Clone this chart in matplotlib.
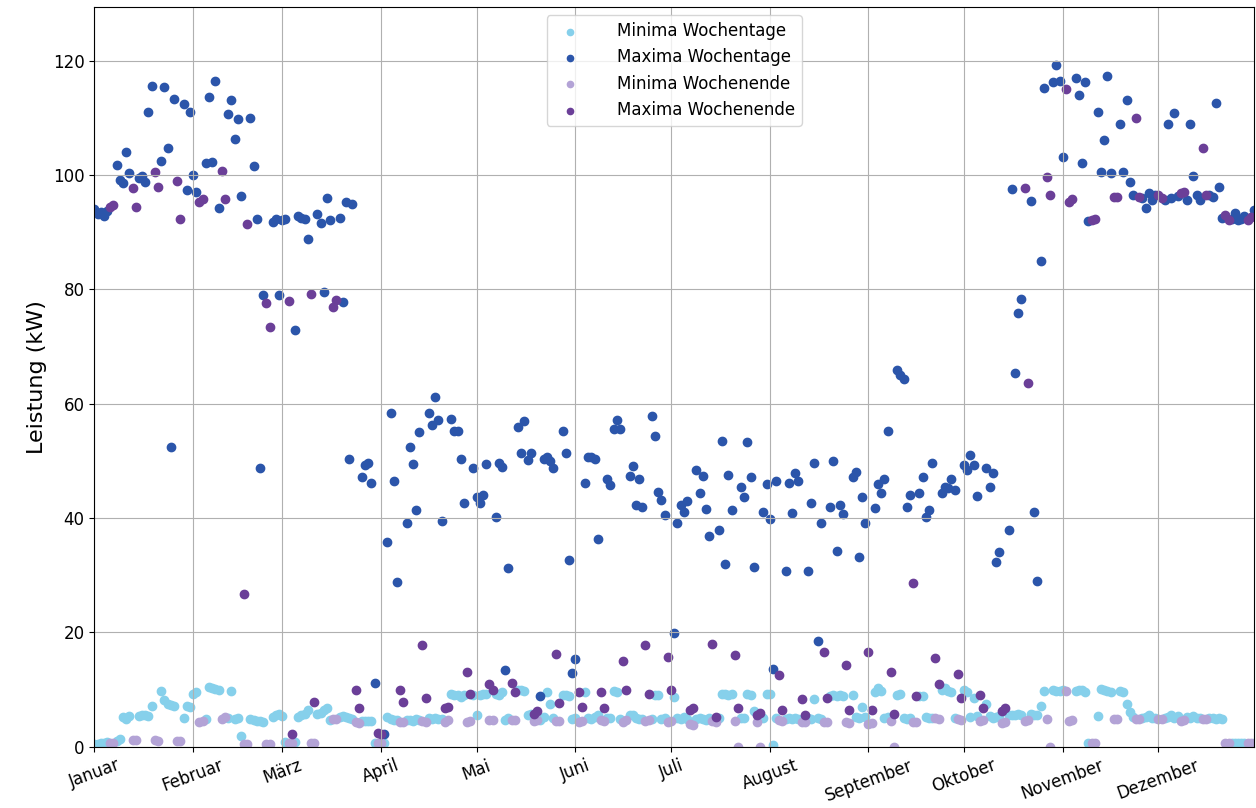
import numpy as np
import pandas as pd
import matplotlib
matplotlib.use("Agg")
import matplotlib.pyplot as plt

max_jan = [94.0, 93.2, 93.5, 92.8, 93.8, 94.5, 94.8, 101.7, 99.1, 98.6,
           104.1, 100.3, 97.7, 94.4, 99.5, 99.9, 98.8, 111.0, 115.6, 100.5,
           97.9, 102.4, 115.4, 104.7, 52.4, 113.3, 99.0, 92.3, 112.4, 97.4, 111.0]
max_feb = [100.0, 97.0, 95.3, 95.8, 102.1, 113.7, 102.3, 116.5, 94.2, 100.8,
           95.8, 110.6, 113.2, 106.3, 109.8, 96.3, 26.7, 91.4, 110.0, 101.6,
           92.4, 48.7, 79.0, 77.6, 73.4, 91.8, 92.4, 79.0]
max_mar = [92.2, 92.4, 78.0, 2.2, 72.9, 92.8, 92.5, 92.3, 88.8, 79.2,
           7.8, 93.2, 91.6, 79.5, 96.0, 92.2, 76.9, 78.1, 92.5, 77.8,
           95.3, 50.4, 95.0, 9.9, 6.7, 47.1, 49.2, 49.7, 46.1, 11.1, 2.4]
max_apr = [2.2, 2.2, 35.8, 58.3, 46.4, 28.8, 9.9, 7.9, 39.2, 52.4,
           49.4, 41.4, 55.0, 17.8, 8.5, 58.3, 56.2, 61.1, 57.2, 39.4,
           6.7, 7.0, 57.4, 55.3, 55.3, 50.4, 42.7, 13.1, 9.2, 48.8]
max_mai = [43.7, 42.7, 44.0, 49.4, 10.9, 9.9, 40.1, 49.6, 49.0, 13.4,
           31.2, 11.1, 9.6, 56.0, 51.3, 57.0, 50.1, 51.3, 5.8, 6.3,
           8.9, 50.3, 50.7, 49.9, 48.8, 16.2, 7.6, 55.3, 51.3, 32.7, 12.9]
max_jun = [15.3, 9.6, 7.0, 46.1, 50.7, 50.6, 50.4, 36.3, 9.6, 6.7,
           46.8, 45.7, 55.5, 57.1, 55.5, 15.0, 9.9, 47.4, 49.1, 42.3,
           46.8, 42.0, 17.8, 9.2, 57.8, 54.3, 44.5, 43.2, 40.5, 15.7]
max_jul = [9.9, 19.9, 39.1, 42.2, 41.0, 42.9, 6.4, 6.7, 48.4, 44.4,
           47.4, 41.6, 36.9, 18.0, 5.2, 37.9, 53.5, 31.9, 47.6, 41.4,
           16.0, 6.7, 45.5, 43.7, 53.3, 47.2, 31.4, 5.5, 5.9, 41.1, 45.9]
max_aug = [39.8, 13.6, 46.5, 12.5, 6.4, 30.7, 46.1, 40.9, 47.9, 46.5,
           8.3, 5.5, 30.7, 42.7, 49.7, 18.5, 39.2, 16.6, 8.6, 41.9,
           49.9, 34.3, 42.3, 40.7, 14.3, 6.4, 47.1, 48.1, 33.1, 43.7, 39.2]
max_sep = [16.6, 6.4, 41.8, 45.9, 44.4, 46.9, 55.3, 13.1, 5.8, 65.9,
           65.0, 64.3, 41.9, 44.0, 28.6, 8.9, 44.4, 47.2, 40.1, 41.4,
           49.7, 15.6, 11.0, 44.4, 45.5, 45.2, 46.8, 44.9, 12.7, 8.6]
max_okt = [49.2, 48.4, 51.1, 49.2, 43.9, 9.0, 6.7, 48.8, 45.5, 47.8,
           32.3, 34.0, 6.3, 6.7, 37.9, 97.5, 65.4, 75.8, 78.4, 97.7,
           63.6, 95.5, 41.1, 29.0, 84.9, 115.3, 99.7, 96.5, 116.3, 119.2, 116.5]
max_nov = [103.2, 115.0, 95.3, 95.8, 116.9, 114.0, 102.2, 116.3, 92.0, 92.1,
           92.3, 111.1, 100.6, 106.1, 117.3, 100.4, 96.2, 96.2, 108.9, 100.6,
           113.2, 98.8, 96.6, 110.0, 96.2, 96.0, 94.2, 96.9, 95.6, 96.6]
max_dez = [96.5, 96.0, 95.6, 109.0, 96.0, 110.8, 96.3, 96.8, 97.0, 95.6,
           108.9, 99.9, 96.6, 95.6, 104.7, 96.5, 96.5, 96.2, 112.6, 97.9,
           92.5, 93.0, 92.1, 92.3, 93.3, 92.1, 92.4, 92.8, 92.1, 92.7, 93.9]

min_jan = [0.5, 0.5, 0.6, 0.6, 0.8, 0.6, 0.7, 1.0, 1.4, 5.2,
           4.8, 5.3, 1.1, 1.2, 5.3, 5.6, 5.5, 5.4, 7.2, 1.2,
           1.0, 9.7, 8.2, 7.5, 7.3, 7.1, 1.0, 1.0, 5.1, 7.2, 7.0]
min_feb = [9.3, 9.6, 4.4, 4.5, 4.8, 10.4, 10.3, 10.1, 9.9, 4.8,
           5.2, 5.0, 9.7, 4.8, 5.0, 1.9, 0.5, 0.5, 4.8, 4.6,
           4.5, 4.5, 4.4, 0.5, 0.5, 5.2, 5.5, 5.7]
min_mar = [5.4, 0.9, 0.7, 0.7, 0.9, 5.2, 5.5, 5.7, 6.5, 0.7,
           0.7, 5.7, 5.9, 6.4, 6.8, 4.7, 4.8, 4.8, 5.2, 5.4,
           5.2, 5.1, 4.8, 4.4, 4.2, 4.5, 4.5, 4.5, 4.5, 0.7, 0.7]
min_apr = [0.7, 0.7, 5.2, 4.8, 4.6, 4.6, 4.4, 4.3, 4.6, 4.7,
           4.5, 4.8, 4.7, 4.5, 4.3, 5.0, 4.8, 5.1, 4.9, 4.8,
           4.4, 4.6, 9.3, 9.0, 9.0, 8.7, 9.0, 4.4, 4.5, 9.0]
min_mai = [5.5, 9.0, 9.2, 9.3, 4.6, 4.6, 9.3, 9.0, 9.5, 4.7,
           5.0, 4.6, 4.7, 9.9, 9.9, 9.8, 5.5, 5.8, 4.5, 4.6,
           4.7, 5.2, 9.6, 7.5, 5.0, 4.5, 4.5, 9.1, 9.0, 8.8, 4.8]
min_jun = [5.0, 4.3, 4.5, 9.6, 5.0, 4.8, 5.2, 5.5, 4.6, 4.5,
           5.0, 5.0, 9.8, 9.6, 4.9, 4.4, 4.6, 5.5, 5.6, 5.0,
           4.8, 4.9, 4.5, 4.6, 4.8, 9.0, 9.1, 4.9, 5.0, 4.4]
min_jul = [4.5, 8.7, 5.0, 4.8, 5.2, 4.9, 4.0, 3.8, 4.8, 5.0,
           4.9, 4.7, 5.0, 4.5, 4.4, 5.0, 9.3, 9.2, 9.1, 9.2,
           4.5, 0.0, 5.1, 5.0, 9.2, 9.1, 6.3, 4.4, 0.0, 5.0, 9.2]
min_aug = [9.2, 0.3, 5.0, 4.6, 4.5, 4.8, 5.0, 4.9, 5.1, 4.8,
           4.3, 4.4, 5.0, 4.9, 8.4, 5.0, 4.9, 4.4, 4.3, 8.8,
           9.0, 8.9, 9.0, 8.8, 4.3, 4.2, 9.0, 5.2, 5.0, 7.0, 5.2]
min_sep = [4.0, 4.2, 9.5, 10.2, 9.8, 5.0, 5.2, 4.5, 0.0, 9.0,
           9.2, 5.1, 4.9, 5.0, 4.3, 4.4, 8.8, 8.9, 5.2, 5.0,
           5.0, 5.0, 4.8, 10.0, 10.2, 9.8, 9.5, 5.0, 4.8, 4.7]
min_okt = [9.9, 9.5, 5.2, 8.5, 5.3, 4.5, 4.6, 7.5, 5.3, 5.0,
           5.2, 5.4, 4.2, 4.3, 5.5, 5.6, 5.5, 5.8, 5.6, 4.5,
           4.6, 5.8, 5.5, 5.6, 7.2, 9.8, 4.8, 0.0, 9.9, 9.7, 9.8]
min_nov = [9.9, 9.8, 4.5, 4.6, 9.8, 10.0, 9.9, 9.6, 0.6, 0.6,
           0.7, 5.3, 10.1, 9.9, 9.7, 9.5, 4.8, 4.9, 9.8, 9.5,
           7.5, 6.0, 5.2, 4.8, 4.9, 5.0, 5.2, 5.5, 5.0, 5.1]
min_dez = [4.8, 4.9, 5.0, 5.2, 5.5, 5.0, 5.3, 4.5, 4.6, 5.2,
           5.0, 5.4, 5.1, 5.0, 4.8, 4.9, 5.0, 5.1, 4.9, 5.0,
           4.8, 0.6, 0.6, 0.6, 0.6, 0.7, 0.6, 0.6, 0.6, 0.6, 0.7]

# Tage, die im Original wie Wochenende eingefaerbt sind
sonder_wochenende = ["2018-11-02"]

monate = ["Januar", "Februar", "März", "April", "Mai", "Juni", "Juli",
          "August", "September", "Oktober", "November", "Dezember"]

tage = pd.date_range("2018-01-01", "2018-12-31", freq="D")
maxima = np.concatenate([max_jan, max_feb, max_mar, max_apr, max_mai, max_jun,
                         max_jul, max_aug, max_sep, max_okt, max_nov, max_dez])
minima = np.concatenate([min_jan, min_feb, min_mar, min_apr, min_mai, min_jun,
                         min_jul, min_aug, min_sep, min_okt, min_nov, min_dez])
assert len(maxima) == len(tage) and len(minima) == len(tage)

we = (tage.dayofweek >= 5) | tage.isin(pd.to_datetime(sonder_wochenende))
wt = ~we

fig, ax = plt.subplots(figsize=(12.56, 8.08), dpi=100)
fig.subplots_adjust(left=0.0751, right=0.9984, top=0.9913, bottom=0.0759)

ax.scatter(tage[wt], minima[wt], color="#86d0eb", label="Minima Wochentage")
ax.scatter(tage[wt], maxima[wt], color="#2b55aa", label="Maxima Wochentage")
ax.scatter(tage[we], minima[we], color="#b3a3d6", label="Minima Wochenende")
ax.scatter(tage[we], maxima[we], color="#6b3f98", label="Maxima Wochenende")

ax.set_xlim(tage[0], tage[-1])
ax.set_ylim(0, 129.4)
ax.set_yticks(np.arange(0, 121, 20))
ax.tick_params(axis="y", labelsize=12)
ax.set_xticks(pd.date_range("2018-01-01", periods=12, freq="MS"))
ax.set_xticklabels(monate, rotation=20, fontsize=12)
ax.set_ylabel("Leistung (kW)", fontsize=16)
ax.grid(True)
ax.legend(loc="upper center", fontsize=12, markerscale=0.75, handletextpad=1.8)

fig.savefig("out.png", dpi=100)
